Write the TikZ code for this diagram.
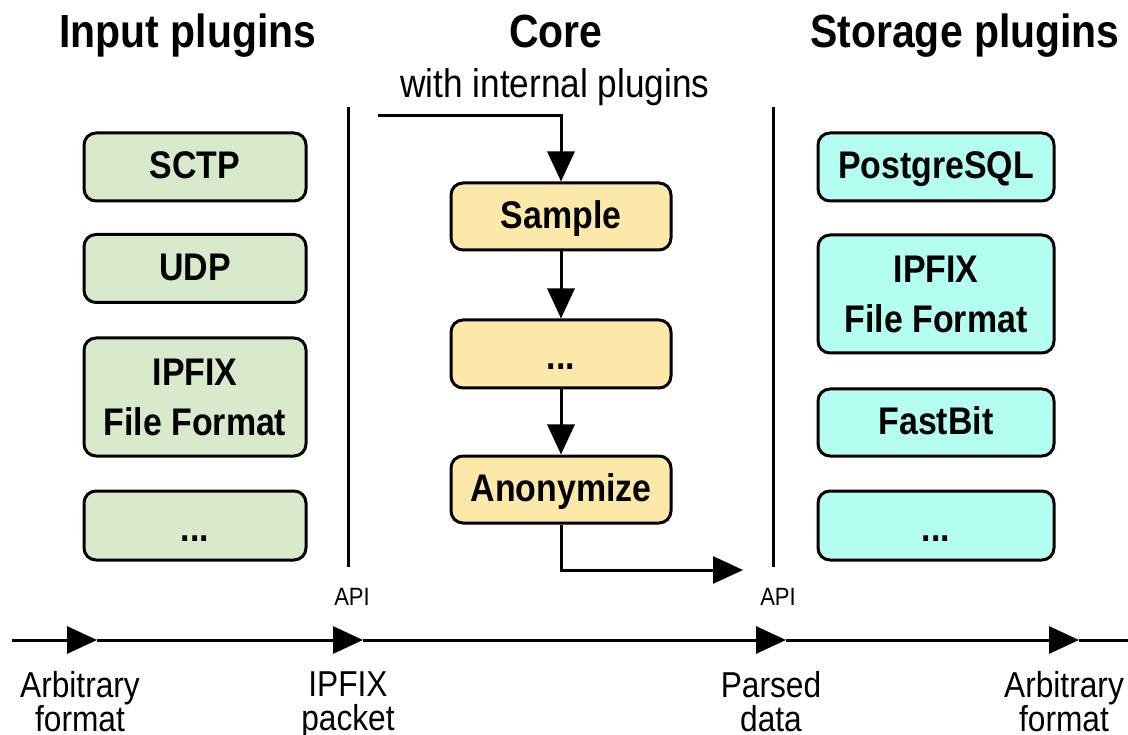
\documentclass[tikz,border=0pt]{standalone}
\usepackage{fontspec}
\setmainfont[FakeStretch=0.88]{Liberation Sans}
\usetikzlibrary{arrows.meta}

\definecolor{inputfill}{HTML}{D9E9CC}
\definecolor{corefill}{HTML}{FCE9A9}
\definecolor{storefill}{HTML}{B3FDF1}

\begin{document}
\begin{tikzpicture}[x=1pt,y=-1pt,
  line width=3pt,
  box/.style={draw=black, rounded corners=12pt, align=center, inner sep=0pt,
    font=\fontsize{38.5}{50}\selectfont\bfseries},
  singleline/.style={text height=27pt, text depth=3pt},
  inbox/.style={box, fill=inputfill, minimum width=222pt},
  corebox/.style={box, fill=corefill, minimum width=220pt},
  storebox/.style={box, fill=storefill, minimum width=236pt},
  title/.style={anchor=base, inner sep=0pt, font=\fontsize{46.5}{50}\selectfont\bfseries},
  subtitle/.style={anchor=base, inner sep=0pt, font=\fontsize{40}{44}\selectfont},
  apilabel/.style={anchor=base, inner sep=0pt, font=\fontsize{25}{28}\selectfont},
  streamlabel/.style={anchor=north, inner sep=0pt, align=center, font=\fontsize{36}{34}\selectfont},
  tip/.style={-{Triangle[length=30pt,width=27pt]}},
]
\useasboundingbox (0,0) rectangle (1128,735);

% column titles
\node[title] (tin) at (188,48) {Input plugins};
\node[title] (tcore) at (556,48) {Core};
\node[subtitle] (tsub) at (555,98) {with internal plugins};
\node[title] (tstore) at (965,48) {Storage plugins};

% input plugins
\node[inbox, singleline, minimum height=68pt] (sctp) at (195,167) {SCTP};
\node[inbox, singleline, minimum height=68pt] (udp) at (195,268.5) {UDP};
\node[inbox, minimum height=118pt] (inipfix) at (195,397) {IPFIX\\File Format};
\node[inbox, singleline, minimum height=69pt] (inmore) at (195,525.5) {\raisebox{-4pt}{...}};

% core with internal plugins
\node[corebox, singleline, minimum height=67pt] (sample) at (561,216.5) {Sample};
\node[corebox, singleline, minimum height=68pt] (coremore) at (561,354) {\raisebox{-4pt}{...}};
\node[corebox, singleline, minimum height=67pt] (anon) at (561,489.5) {Anonymize};

% storage plugins
\node[storebox, singleline, minimum height=68pt] (pg) at (936,167) {PostgreSQL};
\node[storebox, minimum height=118pt] (stipfix) at (936,294) {IPFIX\\File Format};
\node[storebox, singleline, minimum height=67pt] (fastbit) at (936,422.5) {FastBit};
\node[storebox, singleline, minimum height=69pt] (stmore) at (936,525.5) {\raisebox{-4pt}{...}};

% API boundaries
\coordinate (apiLtop) at (348,107);
\coordinate (apiLbot) at (348,567);
\coordinate (apiRtop) at (773,107);
\coordinate (apiRbot) at (773,567);
\draw (apiLtop) -- (apiLbot);
\draw (apiRtop) -- (apiRbot);
\node[apilabel] (apiL) at (352,605) {API};
\node[apilabel] (apiR) at (778,605) {API};

% flow through the core
\coordinate (corein) at (378,116);
\coordinate (coreout) at (743,570);
\draw[tip] (corein) -| (sample.north);
\draw[tip] (sample.south) -- (coremore.north);
\draw[tip] (coremore.south) -- (anon.north);
\draw[tip] (anon.south) |- (coreout);

% data stream along the bottom
\coordinate (s0) at (12,640);
\coordinate (s1) at (97,640);
\coordinate (s2) at (363,640);
\coordinate (s3) at (786,640);
\coordinate (s4) at (1079,640);
\coordinate (s5) at (1128,640);
\draw[tip] (s0) -- (s1);
\draw[tip] (s1) -- (s2);
\draw[tip] (s2) -- (s3);
\draw[tip] (s3) -- (s4);
\draw (s4) -- (s5);

\node[streamlabel] (lraw) at (80,670) {Arbitrary\\format};
\node[streamlabel] (lpkt) at (348,670) {IPFIX\\packet};
\node[streamlabel] (lparsed) at (771,670) {Parsed\\data};
\node[streamlabel] (lout) at (1064,670) {Arbitrary\\format};
\end{tikzpicture}
\end{document}
